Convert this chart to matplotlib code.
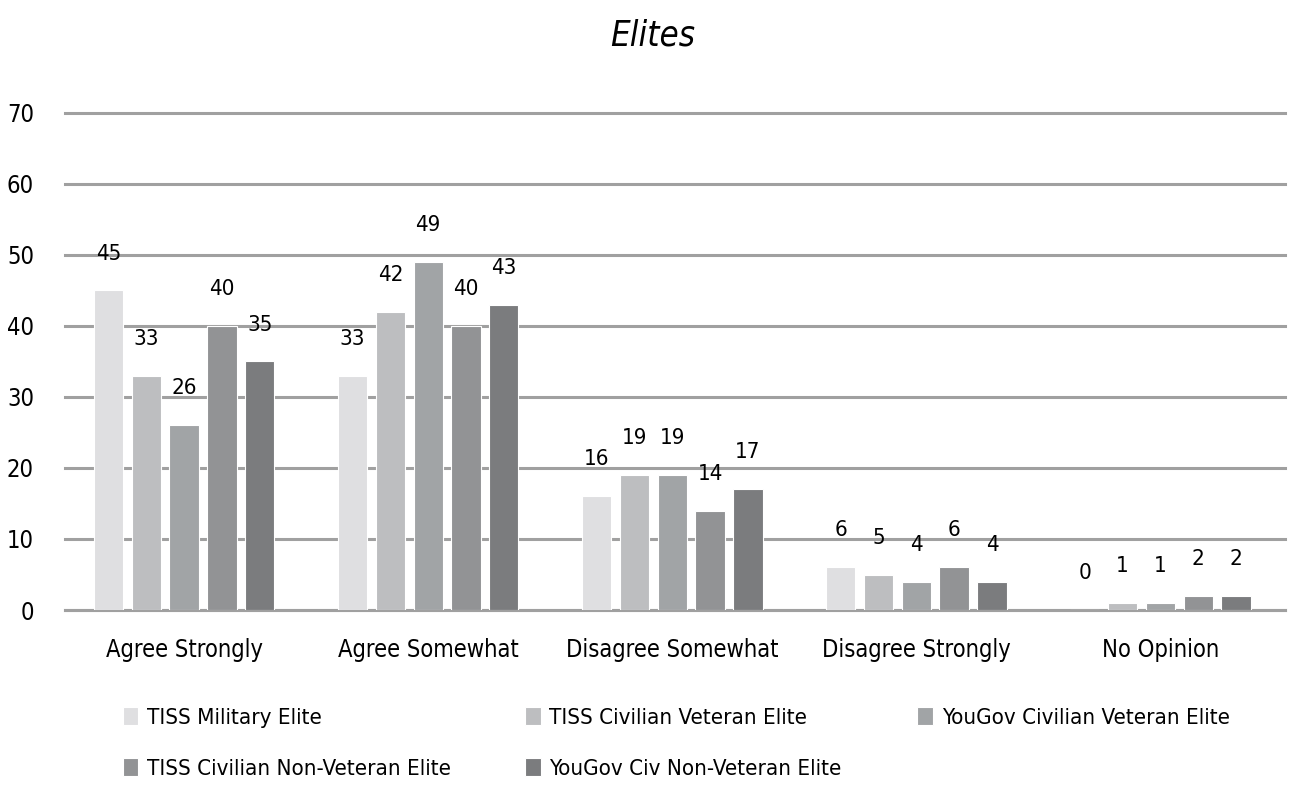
import matplotlib
matplotlib.use('Agg')
import matplotlib.pyplot as plt
import numpy as np

plt.rcParams['font.family'] = ['DejaVu Sans']
plt.rcParams['font.stretch'] = 'condensed'

categories = ['Agree Strongly', 'Agree Somewhat', 'Disagree Somewhat',
              'Disagree Strongly', 'No Opinion']
series = ['TISS Military Elite', 'TISS Civilian Veteran Elite',
          'YouGov Civilian Veteran Elite', 'TISS Civilian Non-Veteran Elite',
          'YouGov Civ Non-Veteran Elite']
tiss_mil = [45, 33, 16, 6, 0]
tiss_civ_vet = [33, 42, 19, 5, 1]
yougov_civ_vet = [26, 49, 19, 4, 1]
tiss_civ_nonvet = [40, 40, 14, 6, 2]
yougov_civ_nonvet = [35, 43, 17, 4, 2]
values = [tiss_mil, tiss_civ_vet, yougov_civ_vet, tiss_civ_nonvet, yougov_civ_nonvet]

colors = ['#dfdfe1', '#bdbec0', '#a1a4a6', '#929395', '#7b7c7e']
GRID = '#a0a0a0'

fig = plt.figure(figsize=(12.9, 7.95), dpi=100)
ax = fig.add_axes([0.050, 0.2327, 0.946, 0.6252])

x = np.arange(len(categories))
step, width = 0.155, 0.12
bars = []
for i, (name, vals, col) in enumerate(zip(series, values, colors)):
    xs = x + (i - 2) * step
    b = ax.bar(xs, vals, width, color=col, label=name, zorder=3,
               edgecolor='white', linewidth=0.8)
    bars.append(b)
    for xi, v in zip(xs, vals):
        ax.text(xi, v + 5.2, str(v), ha='center', va='center', fontsize=16,
                color='black', zorder=4)

ax.set_ylim(0, 70)
ax.set_xlim(-0.49, 4.51)
ax.set_yticks(range(0, 71, 10))
ax.set_xticks(x)
ax.set_xticklabels(categories, fontsize=17)
ax.tick_params(axis='y', labelsize=17, length=0, pad=22)
ax.tick_params(axis='x', length=0, pad=20)
ax.grid(axis='y', color=GRID, lw=2.2, zorder=0)
for gl in ax.get_ygridlines():
    gl.set_clip_on(False)
for s in ['top', 'right', 'left']:
    ax.spines[s].set_visible(False)
ax.spines['bottom'].set_color(GRID)
ax.spines['bottom'].set_linewidth(2.2)

fig.text(0.506, 0.955, 'Elites', ha='center', va='center', fontsize=25,
         style='italic')

# legend laid out row by row, one legend per column
columns = [[0, 3], [1, 4], [2]]
col_x = [0.095, 0.407, 0.711]
for ks, cx in zip(columns, col_x):
    leg = fig.legend([bars[k] for k in ks], [series[k] for k in ks],
                     loc='upper left', bbox_to_anchor=(cx, 0.111), frameon=False,
                     fontsize=16, handlelength=0.7, handleheight=0.9,
                     handletextpad=0.4, labelspacing=1.35,
                     borderpad=0, borderaxespad=0)

fig.savefig('out.png', dpi=100)
